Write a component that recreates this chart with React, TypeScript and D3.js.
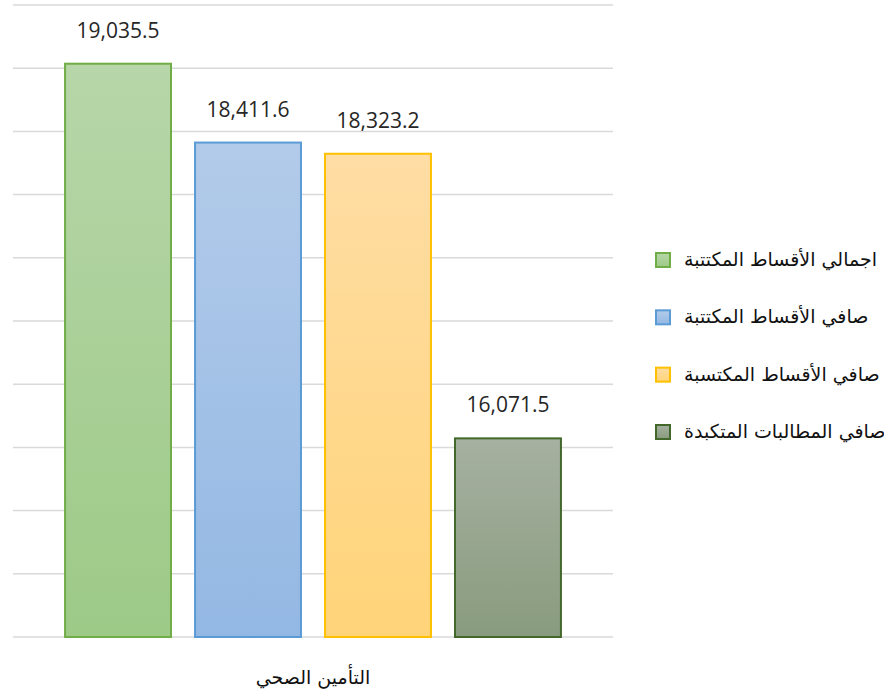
import React from "react";
import * as d3 from "d3";

const category = "التأمين الصحي";
const seriesNames = [
  "اجمالي الأقساط المكتتبة",
  "صافي الأقساط المكتتبة",
  "صافي الأقساط المكتسبة",
  "صافي المطالبات المتكبدة",
];
const values = [19035.5, 18411.6, 18323.2, 16071.5];
const gridTicks = [14500, 15000, 15500, 16000, 16500, 17000, 17500, 18000, 18500, 19000, 19500];
const topColors = ["#b7d6a9", "#b3cbea", "#ffdda4", "#a6b1a1"];
const bottomColors = ["#9dca87", "#93b8e3", "#ffd479", "#899b7e"];
const strokeColors = ["#70ad47", "#5b9bd5", "#ffc000", "#43682b"];

const W = 884;
const H = 697;

export default function App() {
  const y = d3.scaleLinear().domain([14500, 19500]).range([637, 5]);
  const x0 = d3.scaleBand<string>().domain([category]).range([13, 613]).paddingOuter(0.105);
  const x1 = d3
    .scaleBand<string>()
    .domain(seriesNames)
    .range([x0(category)!, x0(category)! + x0.bandwidth()])
    .paddingInner(0.185);
  const fmt = d3.format(",.1f");
  const legendY = d3.scalePoint<string>().domain(seriesNames).range([260, 432]);

  return (
    <svg width={W} height={H} style={{ position: "absolute", left: 0, top: 0, background: "#fff" }}>
      <defs>
        {seriesNames.map((s, i) => (
          <linearGradient key={s} id={`g${i}`} x1="0" y1="0" x2="0" y2="1">
            <stop offset="0" stopColor={topColors[i]} />
            <stop offset="1" stopColor={bottomColors[i]} />
          </linearGradient>
        ))}
      </defs>
      <rect width={W} height={H} fill="#fff" />
      {gridTicks.map((t) => (
        <line key={t} x1={13} x2={613} y1={y(t)} y2={y(t)} stroke="#d9d9d9" strokeWidth={1.5} />
      ))}
      {seriesNames.map((s, i) => {
        const bx = x1(s)!;
        const by = y(values[i]);
        return (
          <g key={s}>
            <rect
              x={bx}
              y={by}
              width={x1.bandwidth()}
              height={y(14500) - by}
              fill={`url(#g${i})`}
              stroke={strokeColors[i]}
              strokeWidth={2}
            />
            <text
              x={bx + x1.bandwidth() / 2}
              y={by - 26}
              textAnchor="middle"
              fontFamily="'Open Sans', sans-serif"
              fontSize={21}
              fill="#262626"
            >
              {fmt(values[i])}
            </text>
          </g>
        );
      })}
      <text
        x={x0(category)! + x0.bandwidth() / 2}
        y={684}
        textAnchor="middle"
        fontFamily="'DejaVu Sans', sans-serif"
        fontSize={19}
        fill="#111"
      >
        {category}
      </text>
      {seriesNames.map((s, i) => {
        const cy = legendY(s)!;
        return (
          <g key={s}>
            <rect
              x={656}
              y={cy - 7}
              width={14}
              height={14}
              fill={`url(#g${i})`}
              stroke={strokeColors[i]}
              strokeWidth={2}
            />
            <text
              x={684}
              y={cy + 6}
              textAnchor="start"
              fontFamily="'DejaVu Sans', sans-serif"
              fontSize={19}
              fill="#111"
            >
              {s}
            </text>
          </g>
        );
      })}
    </svg>
  );
}
